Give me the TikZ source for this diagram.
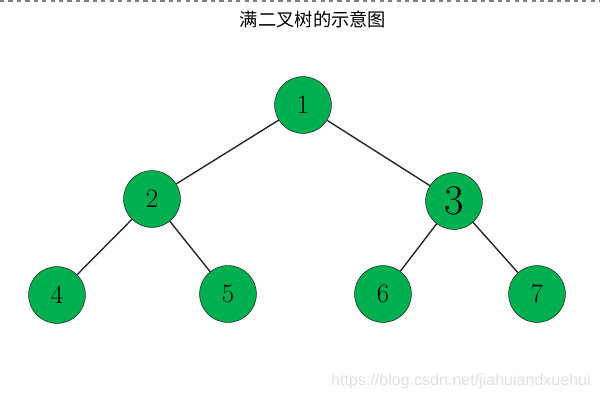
\documentclass[tikz,border=0pt]{standalone}
\usepackage{fontspec}
\usepackage{xcolor}
\usepackage{tikz}
\usetikzlibrary{positioning}
\newfontfamily\cjk{Noto Sans CJK SC}
\setsansfont{Liberation Sans}
\definecolor{leafgreen}{HTML}{00B050}
\definecolor{edgegray}{HTML}{262626}
\tikzset{
  tnode/.style={circle,draw=black!85,fill=leafgreen,thin,minimum size=1.42cm,
    inner sep=0pt,font=\fontsize{19}{21}\selectfont},
  edge/.style={draw=edgegray,line width=1pt}
}
\begin{document}
\begin{tikzpicture}[x=0.025cm,y=-0.025cm]
\useasboundingbox (0,0) rectangle (600,400);
\draw[gray,dashed,thick] (0,1)--(600,1);
\node[font=\cjk\fontsize{13}{15}\selectfont] (title) at (313,19) {满二叉树的示意图};
\node[tnode] (n1) at (303,105) {1};
\node[tnode] (n2) at (152,199) {2};
\node[tnode,font=\fontsize{30}{32}\selectfont] (n3) at (454,201) {3};
\node[tnode] (n4) at (57,295) {4};
\node[tnode] (n5) at (228,294) {5};
\node[tnode] (n6) at (383,294) {6};
\node[tnode] (n7) at (537,294) {7};
\draw[edge] (n1)--(n2);\draw[edge] (n1)--(n3);
\draw[edge] (n2)--(n4);\draw[edge] (n2)--(n5);
\draw[edge] (n3)--(n6);\draw[edge] (n3)--(n7);
\node[font=\sffamily\fontsize{11.4}{13}\selectfont,text=black!12] (mark) at (461,381) {https://blog.csdn.net/jiahuiandxuehui};
\end{tikzpicture}
\end{document}
